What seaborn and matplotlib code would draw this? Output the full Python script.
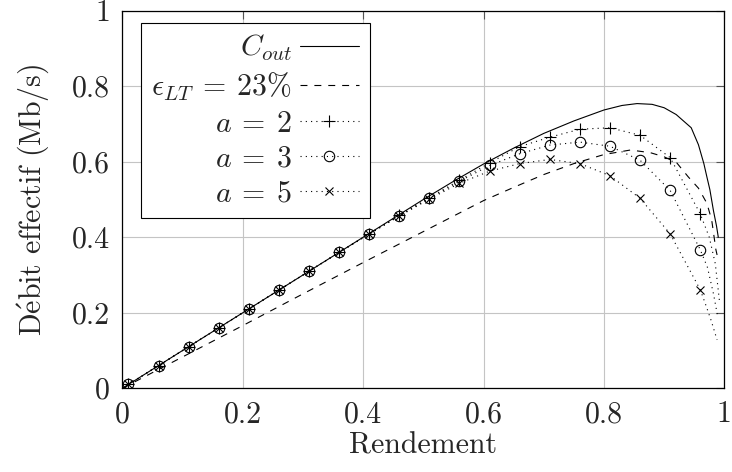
"""
Effective throughput vs. code rate (Rendement), pgfplots-style line chart.
Output: out.png (732x472)
"""

import matplotlib
matplotlib.use("Agg")
import matplotlib.pyplot as plt
import seaborn as sns

# ---- data ----
MARK_X = [0.01, 0.06, 0.11, 0.16, 0.21, 0.26, 0.31, 0.36, 0.41, 0.46,
          0.51, 0.56, 0.61, 0.66, 0.71, 0.76, 0.81, 0.86, 0.91, 0.96]
A2_Y = [0.01, 0.06, 0.11, 0.16, 0.21, 0.26, 0.31, 0.36, 0.409, 0.458,
        0.505, 0.551, 0.597, 0.640, 0.665, 0.686, 0.690, 0.670, 0.611, 0.462]
A3_Y = [0.01, 0.06, 0.11, 0.16, 0.21, 0.26, 0.31, 0.36, 0.409, 0.457,
        0.503, 0.548, 0.590, 0.621, 0.644, 0.652, 0.641, 0.604, 0.524, 0.367]
A5_Y = [0.01, 0.06, 0.11, 0.16, 0.21, 0.26, 0.31, 0.36, 0.408, 0.456,
        0.501, 0.543, 0.575, 0.595, 0.606, 0.595, 0.563, 0.503, 0.409, 0.261]

# dotted tails past the last marker
A2_TAIL_X = [0.975, 0.985, 0.992]
A2_TAIL_Y = [0.40, 0.33, 0.23]
A3_TAIL_X = [0.972, 0.982, 0.989]
A3_TAIL_Y = [0.32, 0.25, 0.19]
A5_TAIL_X = [0.968, 0.978, 0.988]
A5_TAIL_Y = [0.226, 0.18, 0.128]

COUT_X = [0.0, 0.1, 0.2, 0.3, 0.4, 0.5, 0.55, 0.6, 0.65, 0.7, 0.75, 0.8,
          0.83, 0.855, 0.88, 0.9, 0.92, 0.945, 0.957, 0.966, 0.971, 0.976,
          0.982, 0.987, 0.99]
COUT_Y = [0.0, 0.1, 0.2, 0.3, 0.4, 0.5, 0.548, 0.594, 0.636, 0.675, 0.708,
          0.737, 0.749, 0.754, 0.752, 0.743, 0.725, 0.69, 0.645, 0.595, 0.56,
          0.526, 0.47, 0.43, 0.40]

EPS_X = [0.0, 0.1, 0.2, 0.3, 0.4, 0.5, 0.6, 0.65, 0.7, 0.75, 0.8, 0.844,
         0.877, 0.9, 0.921, 0.94, 0.957, 0.971, 0.979, 0.986, 0.988]
EPS_Y = [0.0, 0.083, 0.166, 0.25, 0.333, 0.415, 0.497, 0.532, 0.566, 0.595,
         0.619, 0.631, 0.624, 0.613, 0.597, 0.56, 0.53, 0.49, 0.446, 0.367,
         0.353]

TICKS = [0, 0.2, 0.4, 0.6, 0.8, 1]
TICK_LABELS = ["0", "0.2", "0.4", "0.6", "0.8", "1"]

LABELS = [r"$C_{out}$", r"$\epsilon_{LT}\:=\:23\%$", r"$a\:=\:2$", r"$a\:=\:3$", r"$a\:=\:5$"]

FS = 21.5


def main() -> None:
    sns.set_style("white")
    plt.rcParams.update({
        "font.family": ["cmr10"],
        "mathtext.fontset": "cm",
        "axes.formatter.use_mathtext": True,
        "lines.scale_dashes": False,
        "font.size": FS,
    })

    fig = plt.figure(figsize=(7.32, 4.72), dpi=100)
    ax = fig.add_axes([0.1673, 0.1775, 0.9895 - 0.1673, 0.9773 - 0.1775])

    dotted = (0, (0.8, 3.0))
    common = dict(color="black", lw=0.8, estimator=None, sort=False, legend=False, ax=ax)

    sns.lineplot(x=COUT_X, y=COUT_Y, linestyle="-", label=LABELS[0], **common)
    sns.lineplot(x=EPS_X, y=EPS_Y, linestyle=(0, (5, 5)), label=LABELS[1], **common)

    series = [
        (A2_Y, A2_TAIL_X, A2_TAIL_Y, "+", 8.5, LABELS[2]),
        (A3_Y, A3_TAIL_X, A3_TAIL_Y, "o", 7.5, LABELS[3]),
        (A5_Y, A5_TAIL_X, A5_TAIL_Y, "x", 6.0, LABELS[4]),
    ]
    for ys, tx, ty, mk, ms, lab in series:
        sns.lineplot(
            x=MARK_X + tx, y=ys + ty, linestyle=dotted, marker=mk, markersize=ms,
            markevery=list(range(len(MARK_X))), markerfacecolor="none",
            markeredgecolor="black", markeredgewidth=0.8, label=lab, **common,
        )

    ax.set_xlim(0, 1)
    ax.set_ylim(0, 1)
    ax.set_xticks(TICKS, TICK_LABELS)
    ax.set_yticks(TICKS, TICK_LABELS)
    ax.grid(True, color="#c4c4c4", lw=0.8)
    ax.set_axisbelow(True)
    ax.tick_params(direction="in", length=5.5, width=0.8, color="#555555",
                   top=True, right=True, labelsize=FS, pad=9)
    for sp in ax.spines.values():
        sp.set_color("black")
        sp.set_linewidth(0.9)

    ax.set_xlabel("Rendement", fontsize=FS, labelpad=3)
    ax.set_ylabel(r"D$\acute{\mathrm{e}}$bit effectif (Mb/s)", fontsize=FS, labelpad=15)

    leg = ax.legend(
        loc="upper left", bbox_to_anchor=(0.0306, 0.968), borderaxespad=0,
        markerfirst=False, frameon=True, fancybox=False, edgecolor="black",
        framealpha=1, fontsize=FS, handlelength=2.0, handletextpad=0.25,
        labelspacing=0.25, borderpad=0.35, numpoints=1,
    )
    leg.get_frame().set_linewidth(0.8)
    for t in leg.get_texts():
        t.set_ha("right")

    fig.savefig("out.png", dpi=100)
    plt.close(fig)


if __name__ == "__main__":
    main()
